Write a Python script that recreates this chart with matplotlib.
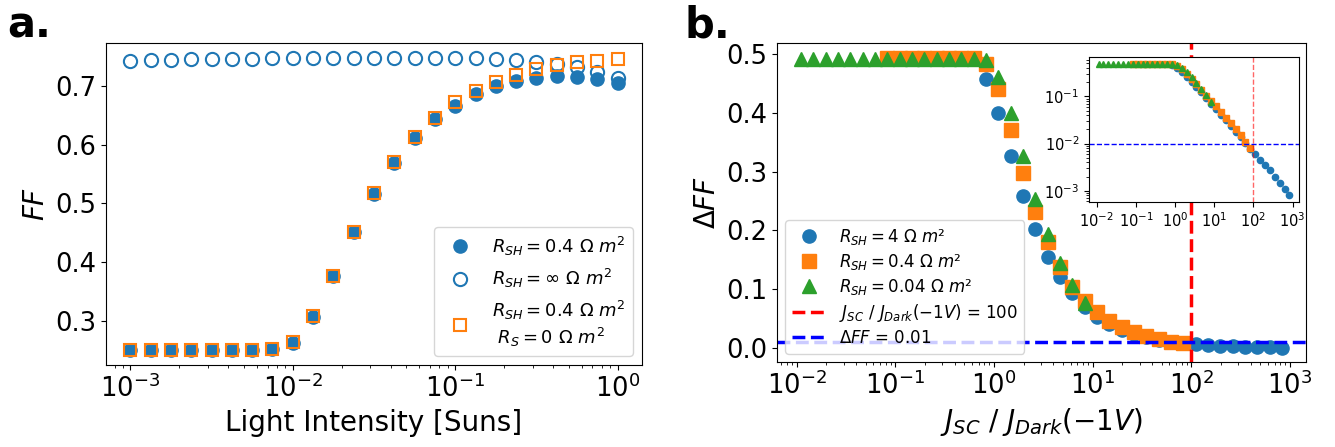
import matplotlib
matplotlib.use("Agg")
import matplotlib.pyplot as plt
from matplotlib.lines import Line2D

# ---------------- panel a: fill factor vs light intensity ----------------
intensity = [0.001, 0.001334, 0.001778, 0.002371, 0.003162, 0.004217, 0.005623,
             0.007499, 0.01, 0.01334, 0.01778, 0.02371, 0.03162, 0.04217,
             0.05623, 0.07499, 0.1, 0.1334, 0.1778, 0.2371, 0.3162, 0.4217,
             0.5623, 0.7499, 1.0]
ff_rsh_04 = [0.250, 0.250, 0.250, 0.250, 0.250, 0.250, 0.251, 0.252, 0.263,
             0.307, 0.377, 0.451, 0.516, 0.569, 0.612, 0.644, 0.666, 0.686,
             0.699, 0.709, 0.713, 0.716, 0.715, 0.712, 0.705]
ff_rsh_inf = [0.743, 0.744, 0.744, 0.745, 0.745, 0.746, 0.746, 0.747, 0.747,
              0.747, 0.748, 0.748, 0.748, 0.748, 0.748, 0.748, 0.748, 0.747,
              0.746, 0.744, 0.741, 0.737, 0.732, 0.724, 0.714]
ff_rs_0 = [0.250, 0.250, 0.250, 0.250, 0.250, 0.250, 0.251, 0.252, 0.264,
           0.308, 0.377, 0.451, 0.517, 0.570, 0.613, 0.645, 0.672, 0.691,
           0.706, 0.719, 0.729, 0.735, 0.740, 0.743, 0.746]
labels_a = [r'$R_{SH} = 0.4\ \Omega\ m^2$',
            r'$R_{SH} = \infty\ \Omega\ m^2$',
            r'$R_{SH} = 0.4\ \Omega\ m^2$' + '\n ' + r'$R_{S} = 0\ \Omega\ m^2$']

# ---------------- panel b: delta FF vs Jsc / Jdark(-1V) ----------------
x_rsh_4 = [0.8299, 1.107, 1.476, 1.968, 2.624, 3.499, 4.667, 6.223, 8.299,
           11.07, 14.76, 19.68, 26.24, 34.99, 46.67, 62.23, 82.99, 110.7,
           147.6, 196.8, 262.4, 349.9, 466.7, 622.3, 829.9]
dff_rsh_4 = [0.458, 0.399, 0.326, 0.258, 0.202, 0.155, 0.121, 0.093, 0.070,
             0.053, 0.041, 0.031, 0.024, 0.018, 0.0135, 0.0102, 0.0077,
             0.0060, 0.0046, 0.0035, 0.0027, 0.0020, 0.0015, 0.0011, 0.0008]
x_rsh_04 = [0.08299, 0.1107, 0.1476, 0.1968, 0.2624, 0.3499, 0.4667, 0.6223,
            0.8299, 1.107, 1.476, 1.968, 2.624, 3.499, 4.667, 6.223, 8.299,
            11.07, 14.76, 19.68, 26.24, 34.99, 46.67, 62.23, 82.99]
dff_rsh_04 = [0.494, 0.494, 0.494, 0.494, 0.494, 0.494, 0.494, 0.494, 0.483,
              0.441, 0.371, 0.298, 0.232, 0.181, 0.138, 0.103, 0.080, 0.061,
              0.046, 0.035, 0.027, 0.020, 0.015, 0.011, 0.008]
x_rsh_004 = [0.01107, 0.01476, 0.01968, 0.02624, 0.03499, 0.04667, 0.06223,
             0.08299, 0.1107, 0.1476, 0.1968, 0.2624, 0.3499, 0.4667, 0.6223,
             0.8299, 1.107, 1.476, 1.968, 2.624, 3.499, 4.667, 6.223, 8.299]
dff_rsh_004 = [0.492, 0.492, 0.492, 0.492, 0.492, 0.492, 0.492, 0.492, 0.492,
               0.492, 0.492, 0.492, 0.492, 0.492, 0.492, 0.489, 0.461, 0.400,
               0.326, 0.253, 0.193, 0.145, 0.107, 0.077]
ratio_threshold = 100
dff_threshold = 0.01
labels_b = [r'$R_{SH} = 4\ \Omega\ m²$',
            r'$R_{SH} = 0.4\ \Omega\ m²$',
            r'$R_{SH} = 0.04\ \Omega\ m²$',
            r'$J_{SC}\ /\ J_{Dark}(-1V)$ = 100',
            r'$\Delta FF$ = 0.01']

C0, C1, C2 = '#1f77b4', '#ff7f0e', '#2ca02c'
W, H = 1335, 447
TICK_FS = 18.5
LABEL_FS = 20

fig = plt.figure(figsize=(W / 100, H / 100), dpi=100)


def frac(x0, y0, x1, y1):
    return [x0 / W, 1 - y1 / H, (x1 - x0) / W, (y1 - y0) / H]


# ---- panel a ----
ax_a = fig.add_axes(frac(106, 43, 642, 365))
ax_a.plot(intensity, ff_rsh_04, 'o', color=C0, ms=9.5, ls='none', label=labels_a[0])
ax_a.plot(intensity, ff_rsh_inf, 'o', mfc='none', mec=C0, mew=1.5, ms=9.5,
          ls='none', label=labels_a[1])
ax_a.plot(intensity, ff_rs_0, 's', mfc='none', mec=C1, mew=1.5, ms=9,
          ls='none', label=labels_a[2])
ax_a.set_xscale('log')
ax_a.set_yticks([0.3, 0.4, 0.5, 0.6, 0.7])
ax_a.tick_params(labelsize=TICK_FS)
ax_a.set_xlabel('Light Intensity [Suns]', fontsize=LABEL_FS)
ax_a.set_ylabel(r'$FF$', fontsize=LABEL_FS)
ax_a.legend(loc='lower right', fontsize=13, handletextpad=0.8)

# ---- panel b ----
ax_b = fig.add_axes(frac(777, 43, 1306, 362))
ax_b.plot(x_rsh_4, dff_rsh_4, 'o', color=C0, ms=9.5, ls='none')
ax_b.plot(x_rsh_04, dff_rsh_04, 's', color=C1, ms=9.5, ls='none')
ax_b.plot(x_rsh_004, dff_rsh_004, '^', color=C2, ms=10, ls='none')
ax_b.set_xscale('log')
ax_b.autoscale(False)
ax_b.axvline(ratio_threshold, color='r', ls='--', lw=2.5)
ax_b.axhline(dff_threshold, color='b', ls='--', lw=2.5)
ax_b.set_xticks([1e-2, 1e-1, 1e0, 1e1, 1e2, 1e3])
ax_b.set_yticks([0.0, 0.1, 0.2, 0.3, 0.4, 0.5])
ax_b.tick_params(labelsize=TICK_FS)
ax_b.set_xlabel(r'$J_{SC}\ /\ J_{Dark}(-1V)$', fontsize=LABEL_FS)
ax_b.set_ylabel(r'$\Delta FF$', fontsize=LABEL_FS)
handles_b = [
    Line2D([], [], marker='o', color=C0, ms=9.5, ls='none'),
    Line2D([], [], marker='s', color=C1, ms=9.5, ls='none'),
    Line2D([], [], marker='^', color=C2, ms=10, ls='none'),
    Line2D([], [], color='r', ls='--', lw=2.5),
    Line2D([], [], color='b', ls='--', lw=2.5),
]
ax_b.legend(handles_b, labels_b, loc='lower left', fontsize=12, labelspacing=0.3)

# ---- inset: same data on log-log axes ----
ins = fig.add_axes(frac(1089, 57, 1299, 202))
ins.plot(x_rsh_4, dff_rsh_4, 'o', color=C0, ms=4.5, ls='none')
ins.plot(x_rsh_04, dff_rsh_04, 's', color=C1, ms=4.5, ls='none')
ins.plot(x_rsh_004, dff_rsh_004, '^', color=C2, ms=4.5, ls='none')
ins.set_xscale('log')
ins.set_yscale('log')
ins.autoscale(False)
ins.axvline(ratio_threshold, color='r', ls='--', lw=1, alpha=0.6)
ins.axhline(dff_threshold, color='b', ls='--', lw=1)
ins.set_xticks([1e-2, 1e-1, 1e0, 1e1, 1e2, 1e3])
ins.set_yticks([1e-3, 1e-2, 1e-1])
ins.tick_params(labelsize=10.5)

fig.text(7 / W, 1 - 37 / H, 'a.', fontsize=30, fontweight='bold', va='baseline')
fig.text(685 / W, 1 - 37 / H, 'b.', fontsize=30, fontweight='bold', va='baseline')

fig.savefig('out.png', dpi=100)
